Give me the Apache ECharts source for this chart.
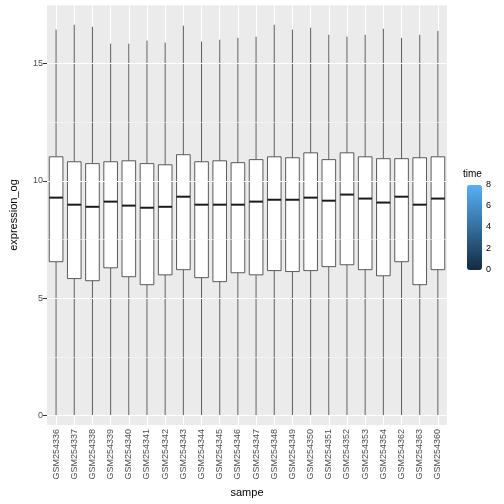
<!DOCTYPE html><html><head><meta charset="utf-8"><script src="https://cdn.jsdelivr.net/npm/echarts@6/dist/echarts.min.js"></script>
<style>html,body{margin:0;background:#fff}#c{width:504px;height:504px}</style></head><body><div id="c"></div><script>
const samples=['GSM254336','GSM254337','GSM254338','GSM254339','GSM254340','GSM254341','GSM254342','GSM254343','GSM254344','GSM254345','GSM254346','GSM254347','GSM254348','GSM254349','GSM254350','GSM254351','GSM254352','GSM254353','GSM254354','GSM254362','GSM254363','GSM254360'];
const lowW=[0,0,0,0,0,0,0,0,0,0,0,0,0,0,0,0,0,0,0,0,0,0];
const q1=[6.56,5.84,5.75,6.3,5.92,5.58,6.0,6.22,5.88,5.71,6.09,6.0,6.18,6.14,6.18,6.35,6.43,6.22,5.96,6.56,5.58,6.22];
const med=[9.29,8.99,8.9,9.12,8.95,8.86,8.9,9.33,8.99,8.99,8.99,9.12,9.2,9.2,9.29,9.16,9.42,9.25,9.08,9.33,8.99,9.25];
const q3=[11.03,10.82,10.74,10.82,10.86,10.74,10.69,11.12,10.82,10.86,10.78,10.91,11.03,10.99,11.2,10.91,11.2,11.03,10.95,10.95,10.99,11.03];
const upW=[16.45,16.66,16.57,15.85,15.85,15.98,15.9,16.62,15.94,16.02,16.1,16.15,16.66,16.45,16.53,16.23,16.15,16.23,16.49,16.1,16.23,16.4];
const yTicks=[0,5,10,15];
const yMinor=[2.5,7.5,12.5,17.5];
const legendTicks=[0,2,4,6,8];
const half=[];samples.forEach(s=>{half.push(s+'a');half.push(s+'b');});
const ch=echarts.init(document.getElementById('c'));
const barTop=185,barH=85;
ch.setOption({
 animation:false,
 grid:{left:42,right:57,top:5,bottom:79,backgroundColor:'#EBEBEB',show:true,borderWidth:0},
 xAxis:[{type:'category',data:samples,name:'sampe',nameLocation:'middle',nameGap:60,nameTextStyle:{color:'#000',fontSize:11,fontFamily:'Liberation Sans'},
   axisLine:{show:false},axisTick:{alignWithLabel:true,length:4,lineStyle:{color:'#333'}},
   axisLabel:{rotate:90,fontSize:9,color:'#4D4D4D',fontFamily:'Liberation Sans',margin:4},splitLine:{show:false}},
  {type:'category',data:half,show:true,position:'bottom',axisLine:{show:false},axisTick:{show:false},axisLabel:{show:false},
   splitLine:{show:true,interval:(i)=>i%2===1,lineStyle:{color:'#fff',width:1}}}],
 yAxis:{type:'value',min:-0.4,max:17.5,name:'expression_og',nameLocation:'middle',nameGap:28,nameTextStyle:{color:'#000',fontSize:11,fontFamily:'Liberation Sans'},
   axisLine:{show:false},axisTick:{show:true,length:4,lineStyle:{color:'#333'},customValues:yTicks},
   axisLabel:{fontSize:9,color:'#4D4D4D',fontFamily:'Liberation Sans',margin:4,customValues:yTicks},
   splitLine:{show:false}},
 visualMap:{type:'continuous',min:0,max:8,seriesIndex:[2],calculable:false,left:452,top:barTop-15,itemWidth:15,itemHeight:barH,showLabel:false,
   inRange:{color:['#132B43','#56B1F7']}},
 graphic:[{type:'text',z:100,left:463,top:barTop-16,style:{text:'time',fontSize:10,fill:'#000',fontFamily:'Liberation Sans'}}].concat(
   legendTicks.map(t=>({type:'text',z:100,left:486,top:barTop+barH-t/8*barH-5,style:{text:String(t),fontSize:9,fill:'#000',fontFamily:'Liberation Sans'}}))),
 series:[
  {type:'line',data:[],z:1,markLine:{silent:true,symbol:'none',label:{show:false},animation:false,
    data:yTicks.map(v=>({yAxis:v,lineStyle:{color:'#fff',width:1.1,type:'solid'}})).concat(yMinor.map(v=>({yAxis:v,lineStyle:{color:'#F7F7F7',width:0.6,type:'solid'}})))}},
  {type:'custom',z:3,data:samples.map((s,i)=>[i,lowW[i],q1[i],med[i],q3[i],upW[i]]),renderItem:(p,api)=>{
    const x=api.value(0);const w=api.size([1,0])[0]*0.75;
    const lo=api.coord([x,api.value(1)]),a=api.coord([x,api.value(2)]),m=api.coord([x,api.value(3)]),b=api.coord([x,api.value(4)]),hi=api.coord([x,api.value(5)]);
    const cx=lo[0];
    return {type:'group',children:[
     {type:'line',shape:{x1:cx,y1:lo[1],x2:cx,y2:a[1]},style:{stroke:'#333',lineWidth:0.8}},
     {type:'line',shape:{x1:cx,y1:b[1],x2:cx,y2:hi[1]},style:{stroke:'#333',lineWidth:0.8}},
     {type:'rect',shape:{x:cx-w/2,y:b[1],width:w,height:a[1]-b[1]},style:{fill:'#fff',stroke:'#333',lineWidth:0.8}},
     {type:'line',shape:{x1:cx-w/2,y1:m[1],x2:cx+w/2,y2:m[1]},style:{stroke:'#1a1a1a',lineWidth:2}}]};}},
  {type:'scatter',data:[]}]
});
</script></body></html>
